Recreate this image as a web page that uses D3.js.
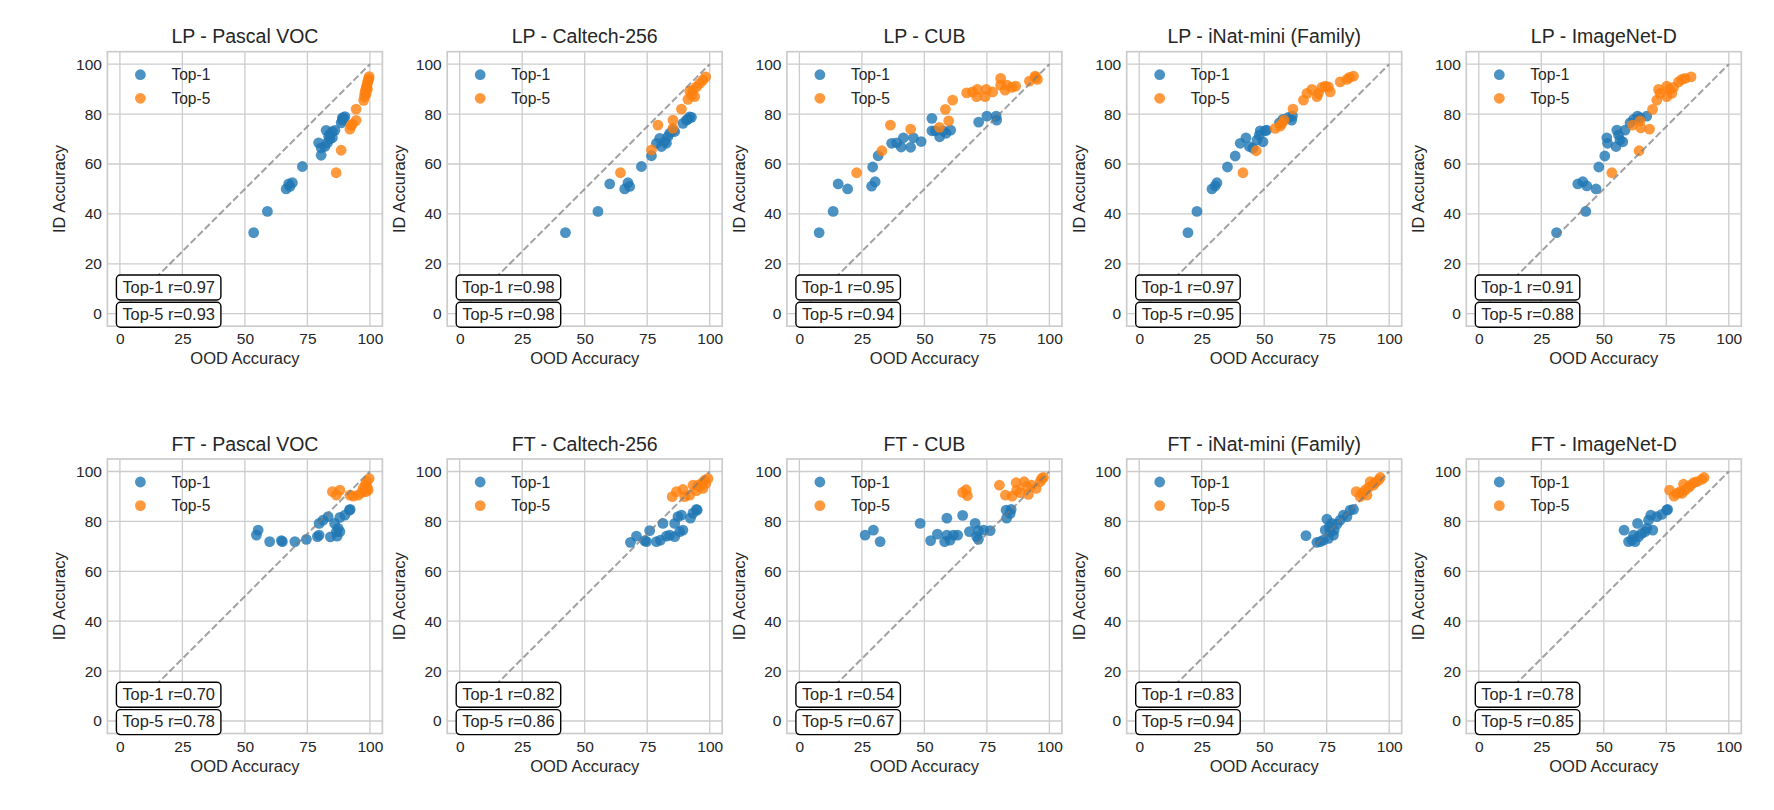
<!DOCTYPE html>
<html>
<head>
<meta charset="utf-8">
<script src="https://cdn.jsdelivr.net/npm/d3@7"></script>
<style>
  html, body { margin: 0; padding: 0; background: #ffffff; }
  svg { display: block; }
  text { font-family: "Liberation Sans", Arial, sans-serif; fill: #262626; }
</style>
</head>
<body>
<svg id="chart" width="1774" height="810"></svg>
<script>
// ---------- DATA ----------
const panelTitles = [
  "LP - Pascal VOC", "LP - Caltech-256", "LP - CUB", "LP - iNat-mini (Family)", "LP - ImageNet-D",
  "FT - Pascal VOC", "FT - Caltech-256", "FT - CUB", "FT - iNat-mini (Family)", "FT - ImageNet-D"
];
const top1R = ["0.97", "0.98", "0.95", "0.97", "0.91", "0.70", "0.82", "0.54", "0.83", "0.78"];
const top5R = ["0.93", "0.98", "0.94", "0.95", "0.88", "0.78", "0.86", "0.67", "0.94", "0.85"];
const xTicks = [0, 25, 50, 75, 100];
const yTicks = [0, 20, 40, 60, 80, 100];
const seriesNames = ["Top-1", "Top-5"];
const xLabel = "OOD Accuracy";
const yLabel = "ID Accuracy";

// [OOD accuracy, ID accuracy]
const lpPascalTop1 = [[53.5,32.5],[59,41],[66.5,50],[68,51],[67.5,52],[69,52.5],[73,59],[80.5,63.5],[79.5,68.5],[80.5,66.5],[82,67],[83,68.5],[84,70],[82.5,73.5],[84,72],[85,73],[86,73.5],[83.5,71],[85,70.5],[88.5,76.5],[89,77.5],[89.5,78.5],[90,79],[89,78.5]];
const lpPascalTop5 = [[86.5,56.5],[88.5,65.5],[92,74],[92.5,75.5],[93,76],[94.5,77.5],[94.5,82],[97.5,85.5],[97.8,87],[98,88.5],[98.3,89.5],[98.5,90.5],[98.8,91.5],[99,92.5],[99.3,93.5],[99.5,94],[99.7,95],[98.5,88],[99,90]];

const lpCaltechTop1 = [[42.3,32.5],[55.3,41],[60,52],[66,50],[67.3,52.5],[68,51],[72.7,59],[76.7,63.3],[78.7,68.3],[80,70.3],[80.7,67],[82,69],[83.3,71],[84,72.3],[85.3,73.6],[86,73],[82.7,68.3],[89.3,76.3],[90.7,77.6],[92,78.9],[92.7,78.7],[91.3,78]];
const lpCaltechTop5 = [[64.3,56.5],[76.7,65.6],[79.3,75.6],[85.3,74.3],[85.3,77.6],[88.7,82],[91.3,85.9],[92.7,87.6],[93.3,89.6],[94.7,90.9],[96,92.3],[97.3,93.6],[98.4,94.9],[94,87],[92,89.3]];

const lpCubTop1 = [[7.9,32.5],[13.5,41],[15.5,52],[19.3,50],[28.9,51.1],[30.3,52.9],[29.3,58.8],[31.5,63.3],[36.9,68.3],[38.9,68.5],[40.7,66.8],[41.6,70.5],[44.5,66.7],[45.6,70.5],[48.7,69],[53,78.3],[53,73.3],[54.4,73.3],[56.1,70.9],[57.5,73.3],[58.7,72.3],[60.5,73.6],[71.7,76.8],[75,79.2],[78.7,79.2],[78.9,77.6]];
const lpCubTop5 = [[22.9,56.5],[33,65.3],[36.4,75.6],[44.5,74],[56,74.7],[58.4,81.9],[59.7,77.3],[61.3,85.6],[66.9,88.5],[69.2,88.9],[71.2,89.9],[70.9,87],[74.3,87],[74.7,89.9],[77.3,88.9],[80.5,94.3],[80.5,91.6],[82.3,89.6],[83,91.6],[85,90.7],[86.5,91.2],[92,93.2],[94.3,95.2],[95.2,93.9],[94.5,94.7]];

const lpInatTop1 = [[19.5,32.5],[23.1,41],[29.1,50],[30.4,51.2],[31.1,52.5],[35.3,58.8],[38.4,63.2],[40.4,68.3],[42.7,70.5],[44.1,67],[45.5,66.3],[47.1,69.6],[48,71.6],[48.4,73.3],[49.5,68.9],[50.4,73.3],[51,73.6],[56.1,76.5],[57.5,77.9],[59.7,78.7],[61,77.6],[61.3,79.2]];
const lpInatTop5 = [[41.5,56.5],[46.8,65.3],[54.4,74.3],[56.4,75.2],[57.1,76.3],[58,77.6],[61.5,82],[65.7,85.6],[67.1,88.3],[69.1,89.9],[71.1,87],[71.7,88.3],[73.1,90.7],[74.4,91.2],[75.7,90.9],[76.4,88.9],[80.4,92.9],[83.1,93.9],[84.1,94.7],[85.7,95.2]];

const lpImnetTop1 = [[31.1,32.5],[42.8,41],[39.6,52],[41.6,52.9],[43.2,51.2],[46.9,50],[48,58.8],[50.4,63.2],[51.2,70.5],[51.5,68.3],[54.9,67],[55.2,73.6],[55.9,71.6],[56.5,69.6],[57.6,68.9],[58.5,73.6],[60.5,76.5],[61.9,77.9],[63.5,79.2],[64.5,78.5],[67.2,79.2]];
const lpImnetTop5 = [[53.2,56.5],[64.1,65.3],[61.5,75.6],[64.5,77.3],[64.8,74.5],[68.3,74],[69.5,81.9],[71.2,85.6],[71.9,89.9],[72.5,88.3],[75.2,87],[75.2,91.2],[76.3,89.9],[77.2,88.3],[77.9,90.7],[79.9,92.9],[81.2,93.9],[82.5,94.3],[84.9,94.9]];

const ftPascalTop1 = [[54.6,74.5],[55.3,76.5],[59.9,71.9],[64.6,72.3],[65,71.9],[70,71.9],[74.6,72.8],[79,73.9],[79.7,74.5],[79.7,79.2],[81.3,80.5],[83.3,81.9],[84.2,73.8],[85.9,79.2],[86.6,75.9],[86.9,74.1],[87.3,77.2],[88,75.9],[88,81.6],[90,82.5],[91.8,84.5],[92.1,84.8]];
const ftPascalTop5 = [[85,91.9],[86.6,90.5],[88,92.5],[92,90.5],[93.4,90.1],[95.3,90.5],[96.7,91.5],[97.3,93.2],[98,94.5],[98.7,95.9],[99.3,92.5],[99.7,97.2],[98.4,91.9],[98.9,93.6]];

const ftCaltechTop1 = [[68.3,71.6],[70.7,74.1],[74,72.3],[74.7,71.9],[76,76.3],[78.7,71.9],[80.3,72.5],[81.3,79.2],[82.7,74.1],[84,74.5],[86,79.2],[86,73.9],[87.3,81.9],[88,75.9],[88.7,82.5],[89.3,76.5],[92.3,81.3],[93.3,83.3],[94.7,84.8],[95,84.5]];
const ftCaltechTop5 = [[85,89.9],[86.7,91.9],[89.3,92.8],[90,89.9],[92,90.5],[93.3,94.5],[94.7,92.3],[96,93.9],[97.1,95.5],[98,96.5],[99.3,97.2],[97.3,93.2],[95.3,94.5],[98.4,95.2]];

const ftCubTop1 = [[26.3,74.5],[29.6,76.5],[32.3,71.9],[48.3,79.2],[52.5,72.3],[55.2,74.9],[58.1,71.9],[59,81.3],[59,74.5],[60.3,72.5],[61.6,74.5],[63.3,74.5],[65.3,82.4],[68,75.9],[70.3,79.2],[70.9,73.9],[71.6,72.8],[71.6,76.3],[73.7,76.5],[76.3,76.3],[82.9,81.3],[82.7,84.5],[84.3,83.2],[84.7,84.8]];
const ftCubTop5 = [[65.3,91.6],[66.7,92.7],[67.2,90.3],[80,94.5],[82.4,90.5],[85.1,90.1],[86.7,95.5],[86.9,92.5],[88.3,91.5],[89.9,95.9],[90.9,93.9],[91.6,90.8],[92.9,94.5],[94.7,93.2],[96.3,95.9],[96.9,97.2],[97.6,97.6]];

const ftInatTop1 = [[66.7,74.3],[71.1,71.6],[72.4,71.9],[73.7,72.5],[74.4,76.5],[75.1,80.9],[75.7,73.2],[76.4,75.9],[77.1,79.2],[77.7,74.5],[78,76.5],[79.1,78.9],[80.4,80.5],[81.7,82.5],[83.1,81.9],[84.4,84.5],[85.7,84.8],[76.1,77.9]];
const ftInatTop5 = [[86.8,91.9],[88.4,89.9],[89.1,91.2],[90.4,92.5],[91.7,93.6],[92.4,95.9],[93.7,94.5],[94.4,95.5],[95.7,96.5],[96.4,97.6],[91.1,90.5]];

const ftImnetTop1 = [[58.1,76.5],[59.9,71.9],[61.2,72.5],[61.9,74.5],[63.5,79.2],[63.9,73.9],[65.2,75.2],[66.5,75.9],[67.2,77.2],[67.9,80.5],[68.8,82.5],[69.6,76.5],[71.2,81.9],[73.2,82.8],[75.2,84.5],[75.5,84.8],[62.5,71.9]];
const ftImnetTop5 = [[76.3,92.5],[78.1,90.1],[79.2,91.2],[80.5,91.9],[81.9,94.9],[82.5,92.5],[83.9,93.6],[84.8,94.5],[85.9,95.5],[87.2,95.9],[89.2,96.8],[90.1,97.6],[81.2,91.2]];

const top1Series = [lpPascalTop1, lpCaltechTop1, lpCubTop1, lpInatTop1, lpImnetTop1,
                    ftPascalTop1, ftCaltechTop1, ftCubTop1, ftInatTop1, ftImnetTop1];
const top5Series = [lpPascalTop5, lpCaltechTop5, lpCubTop5, lpInatTop5, lpImnetTop5,
                    ftPascalTop5, ftCaltechTop5, ftCubTop5, ftInatTop5, ftImnetTop5];

// ---------- LAYOUT ----------
const colors = ["#1f77b4", "#ff7f0e"];
const W = 275, H = 274.5;
const lefts = [107.4, 447.2, 786.9, 1126.7, 1466.3];
const tops = [51.7, 459];
const R = 5.4;

const svg = d3.select("#chart");

panelTitles.forEach((title, i) => {
  const col = i % 5, row = Math.floor(i / 5);
  const left = lefts[col], top = tops[row];
  const x = d3.scaleLinear().domain([-5, 105]).range([0, W]);
  const y = d3.scaleLinear().domain([-5, 105]).range([H, 0]);
  const g = svg.append("g").attr("transform", `translate(${left},${top})`);

  // grid
  g.append("g").selectAll("line").data(xTicks).join("line")
    .attr("x1", d => x(d)).attr("x2", d => x(d)).attr("y1", 0).attr("y2", H)
    .attr("stroke", "#cccccc").attr("stroke-width", 1.3);
  g.append("g").selectAll("line").data(yTicks).join("line")
    .attr("y1", d => y(d)).attr("y2", d => y(d)).attr("x1", 0).attr("x2", W)
    .attr("stroke", "#cccccc").attr("stroke-width", 1.3);

  // axes (tick labels through d3 axes, no tick lines)
  const xAxis = g.append("g").attr("transform", `translate(0,${H})`)
    .call(d3.axisBottom(x).tickValues(xTicks).tickSize(0).tickPadding(7).tickFormat(d3.format("d")));
  const yAxis = g.append("g")
    .call(d3.axisLeft(y).tickValues(yTicks).tickSize(0).tickPadding(5.5).tickFormat(d3.format("d")));
  [xAxis, yAxis].forEach(a => {
    a.select(".domain").remove();
    a.selectAll("text").attr("font-size", 15.5).attr("fill", "#262626")
      .style("font-family", '"Liberation Sans", Arial, sans-serif');
  });

  // frame
  g.append("rect").attr("x", 0).attr("y", 0).attr("width", W).attr("height", H)
    .attr("fill", "none").attr("stroke", "#cccccc").attr("stroke-width", 1.7);

  // points
  const series = [top1Series[i], top5Series[i]];
  series.forEach((pts, s) => {
    g.append("g").selectAll("circle").data(pts).join("circle")
      .attr("cx", d => x(d[0])).attr("cy", d => y(d[1])).attr("r", R)
      .attr("fill", colors[s]).attr("fill-opacity", 0.8);
  });

  // diagonal
  g.append("line")
    .attr("x1", x(0)).attr("y1", y(0)).attr("x2", x(100)).attr("y2", y(100))
    .attr("stroke", "#7a7a7a").attr("stroke-opacity", 0.7)
    .attr("stroke-width", 2).attr("stroke-dasharray", "7,3");

  // legend
  seriesNames.forEach((name, s) => {
    const ly = 23 + s * 23.6;
    g.append("circle").attr("cx", 33).attr("cy", ly).attr("r", R)
      .attr("fill", colors[s]).attr("fill-opacity", 0.8);
    g.append("text").attr("x", 64).attr("y", ly + 5.5).attr("font-size", 15.6).text(name);
  });

  // r boxes
  const labels = [`Top-1 r=${top1R[i]}`, `Top-5 r=${top5R[i]}`];
  labels.forEach((lab, k) => {
    const by = 223.3 + k * 27.3;
    const bg = g.append("g");
    const rect = bg.append("rect");
    const t = bg.append("text").attr("x", 15).attr("y", by + 17.6).attr("font-size", 16.4).text(lab);
    const tw = t.node().getComputedTextLength();
    rect.attr("x", 9).attr("y", by).attr("width", tw + 12).attr("height", 25)
      .attr("rx", 4).attr("ry", 4)
      .attr("fill", "#ffffff").attr("stroke", "#000000").attr("stroke-width", 1.4);
  });

  // title
  g.append("text").attr("x", W / 2).attr("y", -8.4).attr("text-anchor", "middle")
    .attr("font-size", 19.5).text(title);
  // axis labels
  g.append("text").attr("x", W / 2).attr("y", H + 38).attr("text-anchor", "middle")
    .attr("font-size", 16.5).text(xLabel);
  g.append("text").attr("transform", `translate(-42.2,${H / 2}) rotate(-90)`)
    .attr("text-anchor", "middle").attr("font-size", 16.5).text(yLabel);
});
</script>
</body>
</html>
